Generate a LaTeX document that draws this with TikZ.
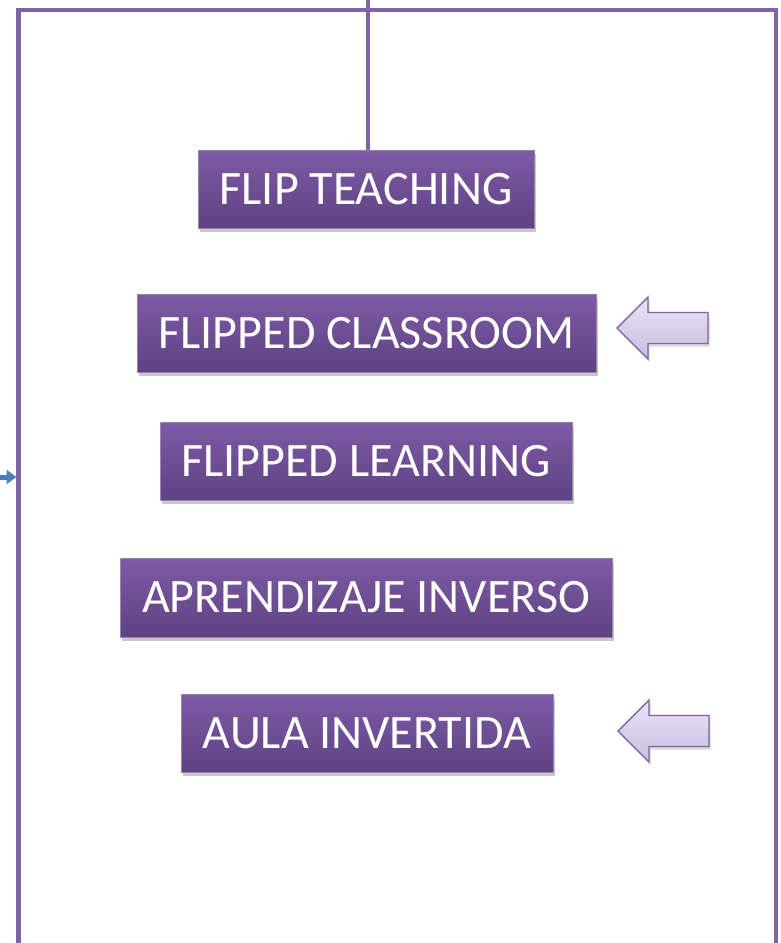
\documentclass[tikz,border=0pt]{standalone}
\usepackage{fontspec}
\setmainfont{Carlito}
\usetikzlibrary{shadows,arrows.meta}
\definecolor{framec}{HTML}{8064A2}
\definecolor{boxtop}{HTML}{7E5AA6}
\definecolor{boxbot}{HTML}{5E4282}
\definecolor{arrtop}{HTML}{EAE3F4}
\definecolor{arrbot}{HTML}{CBBCE2}
\definecolor{bluec}{HTML}{4A7EBB}
\tikzset{
  termbox/.style={rectangle, draw=framec!80!white, line width=0.8pt,
    top color=boxtop, bottom color=boxbot, text=white,
    font=\fontsize{48}{54}\selectfont, inner sep=0pt, minimum height=78,
    drop shadow={shadow xshift=1.5pt, shadow yshift=-4pt, opacity=0.3, fill=black!70}},
  framel/.style={draw=framec, line width=4.8pt},
  blockarr/.style={draw=framec, line width=1.4pt, line join=miter,
    top color=arrtop, bottom color=arrbot,
    drop shadow={shadow xshift=1.5pt, shadow yshift=-3pt, opacity=0.25, fill=black!60}},
}
\begin{document}
\begin{tikzpicture}[x=1pt,y=-1pt]
\useasboundingbox[fill=white] (0,0) rectangle (780,943);
% frame
\coordinate (fbl) at (18.5,950);
\coordinate (ftl) at (18.5,10);
\coordinate (ftr) at (776,10);
\coordinate (fbr) at (776,950);
\draw[framel, line join=miter] (fbl) -- (ftl) -- (ftr) -- (fbr);
% boxes
\node[termbox, minimum width=336] (b1) at (366,189) {FLIP TEACHING};
\node[termbox, minimum width=459] (b2) at (366.5,333) {FLIPPED CLASSROOM};
\node[termbox, minimum width=412] (b3) at (366,461) {FLIPPED LEARNING};
\node[termbox, minimum width=492, minimum height=79] (b4) at (366,597.5) {APRENDIZAJE INVERSO};
\node[termbox, minimum width=372] (b5) at (367,733) {AULA INVERTIDA};
% connector from top
\coordinate (ctop) at (368,0);
\draw[framel] (ctop) -- (ctop |- b1.north);
% blue arrow into the left frame
\coordinate (bs) at (0,477);
\coordinate (be) at (16.5,477);
\draw[bluec, line width=5pt, -{Triangle[length=10pt,width=14pt]}] (bs) -- (be);
% block arrows
\path[blockarr] (617,328) -- (648,297) -- (648,312.5) -- (708,312.5) -- (708,343.5) -- (648,343.5) -- (648,359) -- cycle;
\path[blockarr] (618,731) -- (649,700) -- (649,715.5) -- (709,715.5) -- (709,746.5) -- (649,746.5) -- (649,762) -- cycle;
\end{tikzpicture}
\end{document}
